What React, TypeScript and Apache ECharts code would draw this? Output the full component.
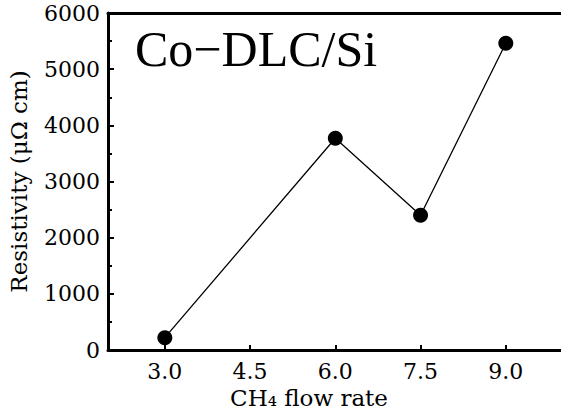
import React, { useEffect, useRef } from "react";
import * as echarts from "echarts";

const flowRates = [3.0, 6.0, 7.5, 9.0];
const resistivity = [220, 3770, 2400, 5460];
const xTickValues = [3.0, 4.5, 6.0, 7.5, 9.0];
const titleText = "Co\u2212DLC/Si";
const yName = "Resistivity (\u03bc\u03a9 cm)";
const xName = "CH\u2084 flow rate";

export default function App() {
  const ref = useRef<HTMLDivElement>(null);
  useEffect(() => {
    document.body.style.margin = "0";
    document.body.style.overflow = "hidden";
    const chart = echarts.init(ref.current!, null, { renderer: "svg" });
    const serif = "DejaVu Serif";
    chart.setOption({
      animation: false,
      backgroundColor: "#fff",
      grid: {
        left: 108,
        top: 13,
        right: -13,
        bottom: 66,
        show: false,
        containLabel: false,
        outerBoundsMode: "none",
      },
      xAxis: [
        {
          type: "value",
          min: 2,
          max: 10.2,
          name: xName,
          nameLocation: "middle",
          nameGap: 33,
          nameTextStyle: {
            fontFamily: serif,
            fontSize: 23,
            color: "#000",
            padding: [0, 64, 0, 0],
          },
          axisLine: { show: true, lineStyle: { color: "#000", width: 3 } },
          axisTick: {
            show: true,
            inside: true,
            length: 5,
            lineStyle: { color: "#000", width: 2 },
            customValues: xTickValues,
          },
          axisLabel: {
            customValues: xTickValues,
            formatter: (v: number) => v.toFixed(1),
            fontFamily: serif,
            fontSize: 22,
            color: "#000",
            margin: 10,
          },
          splitLine: { show: false },
        },
        {
          type: "value",
          position: "top",
          min: 2,
          max: 10.2,
          axisLine: { show: true, lineStyle: { color: "#000", width: 3 } },
          axisTick: { show: false },
          axisLabel: { show: false },
          splitLine: { show: false },
        },
      ],
      yAxis: {
        type: "value",
        min: 0,
        max: 6000,
        interval: 1000,
        name: yName,
        nameLocation: "middle",
        nameGap: 78,
        nameTextStyle: { fontFamily: serif, fontSize: 23, color: "#000" },
        axisLine: { show: true, lineStyle: { color: "#000", width: 3 } },
        axisTick: {
          show: true,
          inside: true,
          length: 6,
          lineStyle: { color: "#000", width: 2 },
        },
        minorTick: {
          show: true,
          splitNumber: 2,
          length: 4,
          lineStyle: { color: "#000", width: 2 },
        },
        axisLabel: {
          formatter: (v: number) => String(v),
          fontFamily: serif,
          fontSize: 22,
          color: "#000",
          margin: 8,
        },
        splitLine: { show: false },
      },
      graphic: [
        {
          type: "text",
          left: 135,
          top: 24,
          style: {
            text: titleText,
            font: "50px 'Liberation Serif'",
            fill: "#000",
          },
        },
      ],
      series: [
        {
          type: "line",
          xAxisIndex: 0,
          data: flowRates.map((x, i) => [x, resistivity[i]]),
          symbol: "circle",
          symbolSize: 15,
          itemStyle: { color: "#000" },
          lineStyle: { color: "#000", width: 1.3 },
        },
      ],
    });
    return () => chart.dispose();
  }, []);
  return (
    <div
      ref={ref}
      style={{ width: 561, height: 416, position: "fixed", left: 0, top: 0 }}
    />
  );
}
